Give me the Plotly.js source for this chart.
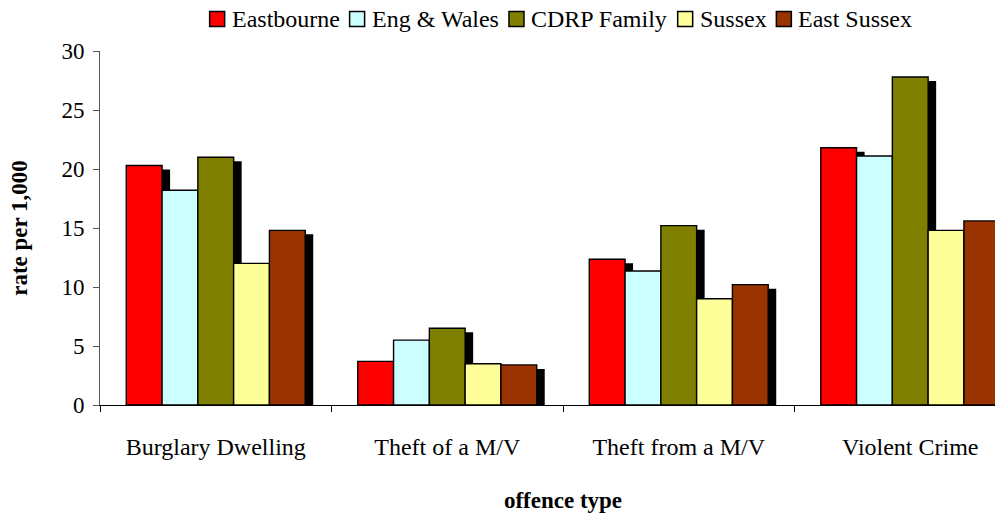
<!DOCTYPE html>
<html>
<head>
<meta charset="utf-8">
<script src="https://cdn.plot.ly/plotly-3.0.1.min.js"></script>
<style>
html,body{margin:0;padding:0;overflow:hidden;background:#fff;}
#chart{width:1040px;height:517px;}
</style>
</head>
<body>
<div id="chart"></div>
<script>
// ---- data ----
var categories = ["Burglary Dwelling", "Theft of a M/V", "Theft from a M/V", "Violent Crime"];
var seriesNames = ["Eastbourne", "Eng & Wales", "CDRP Family", "Sussex", "East Sussex"];
var eastbourne = [20.3, 3.7, 12.35, 21.8];
var engWales   = [18.2, 5.5, 11.35, 21.1];
var cdrpFamily = [21.0, 6.5, 15.2, 27.8];
var sussex     = [12.0, 3.5, 9.0, 14.8];
var eastSussex = [14.8, 3.4, 10.2, 15.6];
var seriesValues = [eastbourne, engWales, cdrpFamily, sussex, eastSussex];
var seriesColors = ["#ff0000", "#ccffff", "#808000", "#ffff99", "#993300"];

// ---- geometry (styling) ----
var barW = 0.1546;
var groupStart = -0.3865;
var shadowDx = 0.0346;   // ~8px
var shadowDy = 0.34;     // ~4px in data units

var font = 'Liberation Serif';
var W = 1040, H = 517, ML = 100, MR = 14, MT = 51, MB = 112;
var plotW = W - ML - MR, plotH = H - MT - MB;

var traces = [];
// shadows first (drawn behind)
seriesValues.forEach(function (vals, i) {
  traces.push({
    type: 'bar',
    name: seriesNames[i] + ' shadow',
    x: categories,
    y: vals.map(function (v) { return v - shadowDy; }),
    width: barW,
    offset: groupStart + i * barW + shadowDx,
    marker: {color: '#000000', line: {width: 0}},
    showlegend: false,
    hoverinfo: 'skip'
  });
});
seriesValues.forEach(function (vals, i) {
  traces.push({
    type: 'bar',
    name: seriesNames[i],
    x: categories,
    y: vals,
    width: barW,
    offset: groupStart + i * barW,
    marker: {color: seriesColors[i], line: {color: '#000000', width: 1.4}},
    showlegend: false
  });
});

// ---- legend built from seriesNames / seriesColors ----
var canvas = document.createElement('canvas');
var ctx = canvas.getContext('2d');
ctx.font = '24px "Liberation Serif"';
var boxSize = 15, boxGap = 5, itemGap = 12;
var widths = seriesNames.map(function (n) { return ctx.measureText(n).width; });
var total = 0;
widths.forEach(function (w, i) { total += boxSize + boxGap + w + (i < widths.length - 1 ? itemGap : 0); });
var legendCenterPx = 560;
var legendYpx = 19;
var cursor = legendCenterPx - total / 2;
function px2x(px) { return (px - ML) / plotW; }
function px2y(py) { return (H - MB - py) / plotH; }
var shapes = [], annotations = [];
seriesNames.forEach(function (n, i) {
  shapes.push({
    type: 'rect', xref: 'paper', yref: 'paper',
    x0: px2x(cursor), x1: px2x(cursor + boxSize),
    y0: px2y(legendYpx + boxSize / 2), y1: px2y(legendYpx - boxSize / 2),
    fillcolor: seriesColors[i], line: {color: '#000000', width: 1.5}
  });
  annotations.push({
    xref: 'paper', yref: 'paper',
    x: px2x(cursor + boxSize + boxGap), y: px2y(legendYpx),
    xanchor: 'left', yanchor: 'middle', showarrow: false,
    text: n, font: {family: font, size: 24, color: '#000000'}
  });
  cursor += boxSize + boxGap + widths[i] + itemGap;
});

var layout = {
  width: W,
  height: H,
  margin: {l: ML, r: MR, t: MT, b: MB, autoexpand: false},
  paper_bgcolor: '#ffffff',
  plot_bgcolor: '#ffffff',
  barmode: 'overlay',
  font: {family: font, color: '#000000', size: 24},
  showlegend: false,
  shapes: shapes,
  annotations: annotations,
  xaxis: {
    type: 'category',
    range: [-0.5, 3.5],
    tickson: 'boundaries',
    ticks: 'outside',
    ticklen: 6,
    tickcolor: '#000',
    showline: true,
    linecolor: '#000',
    linewidth: 1,
    showgrid: false,
    zeroline: false,
    tickfont: {family: font, size: 24, color: '#000'},
    ticklabelstandoff: 20,
    title: {text: '<b>offence type</b>', font: {family: font, size: 23, color: '#000'}, standoff: 33}
  },
  yaxis: {
    range: [0, 30],
    tickvals: [0, 5, 10, 15, 20, 25, 30],
    ticks: 'outside',
    ticklen: 6,
    tickcolor: '#555',
    showline: true,
    linecolor: '#555',
    linewidth: 1,
    showgrid: false,
    zeroline: false,
    tickfont: {family: font, size: 23, color: '#000'},
    ticklabelstandoff: 4,
    title: {text: '<b>rate per 1,000</b>', font: {family: font, size: 23, color: '#000'}, standoff: 27}
  }
};

Plotly.newPlot('chart', traces, layout, {staticPlot: true, displayModeBar: false});
</script>
</body>
</html>
